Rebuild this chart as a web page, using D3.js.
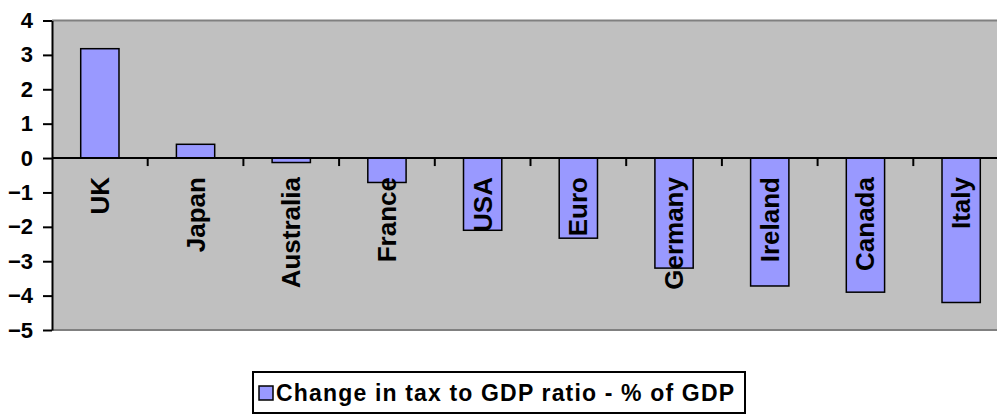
<!DOCTYPE html>
<html>
<head>
<meta charset="utf-8">
<script src="https://cdn.jsdelivr.net/npm/d3@7"></script>
<style>
  html, body { margin: 0; padding: 0; background: #ffffff; }
  svg { display: block; font-family: "Liberation Sans", Arial, sans-serif; font-weight: bold; }
</style>
</head>
<body>
<svg id="chart" width="997" height="418"></svg>
<script>
// Change in tax-to-GDP ratio by country (percentage points of GDP)
const categories = ["UK", "Japan", "Australia", "France", "USA", "Euro", "Germany", "Ireland", "Canada", "Italy"];
const values = [3.18, 0.4, -0.13, -0.71, -2.1, -2.33, -3.2, -3.72, -3.9, -4.2];
const yTicks = [4, 3, 2, 1, 0, -1, -2, -3, -4, -5];
const seriesName = "Change in tax to GDP ratio - % of GDP";

const svg = d3.select("#chart");
const plot = { left: 52, right: 1009, top: 20.5, bottom: 330 };

const x = d3.scaleBand()
  .domain(categories)
  .range([plot.left, plot.right])
  .paddingInner(0.6)
  .paddingOuter(0.3);

const y = d3.scaleLinear()
  .domain([-5, 4])
  .range([plot.bottom, plot.top]);

// plot background
svg.append("rect")
  .attr("x", plot.left).attr("y", plot.top)
  .attr("width", plot.right - plot.left).attr("height", plot.bottom - plot.top)
  .attr("fill", "#c0c0c0");

// grey frame lines along top and bottom of the plot area
svg.append("line")
  .attr("x1", plot.left).attr("x2", 997)
  .attr("y1", plot.top).attr("y2", plot.top)
  .attr("stroke", "#808080").attr("stroke-width", 2);
svg.append("line")
  .attr("x1", plot.left).attr("x2", 997)
  .attr("y1", plot.bottom).attr("y2", plot.bottom)
  .attr("stroke", "#808080").attr("stroke-width", 2);

// bars
svg.append("g").selectAll("rect")
  .data(categories)
  .join("rect")
  .attr("x", d => x(d))
  .attr("width", x.bandwidth())
  .attr("y", (d, i) => y(Math.max(0, values[i])))
  .attr("height", (d, i) => Math.abs(y(values[i]) - y(0)))
  .attr("fill", "#9999ff")
  .attr("stroke", "#000000")
  .attr("stroke-width", 1.5);

// y axis
const yAxis = d3.axisLeft(y)
  .tickValues(yTicks)
  .tickFormat(d3.format("d"))
  .tickSizeInner(9)
  .tickSizeOuter(0)
  .tickPadding(10);
const gy = svg.append("g")
  .attr("transform", `translate(${plot.left},0)`)
  .call(yAxis);
gy.select(".domain").attr("stroke", "#000").attr("stroke-width", 2);
gy.selectAll(".tick line").attr("stroke", "#000").attr("stroke-width", 2);
gy.selectAll(".tick text")
  .attr("fill", "#000")
  .style("font-size", "22px")
  .style("font-weight", "bold")
  .style("font-family", "'Liberation Sans', Arial, sans-serif");

// category axis along the zero line, ticks between categories
const step = x.step();
const boundaries = categories.slice(0, -1).map(c => x(c) + x.bandwidth() + (step - x.bandwidth()) / 2);
svg.append("line")
  .attr("x1", plot.left).attr("x2", 997)
  .attr("y1", y(0)).attr("y2", y(0))
  .attr("stroke", "#000").attr("stroke-width", 2);
svg.append("g").selectAll("line")
  .data(boundaries)
  .join("line")
  .attr("x1", d => d).attr("x2", d => d)
  .attr("y1", y(0)).attr("y2", y(0) + 8)
  .attr("stroke", "#000").attr("stroke-width", 2);

// rotated category labels below the zero line
svg.append("g").selectAll("text")
  .data(categories)
  .join("text")
  .attr("transform", d => `translate(${x(d) + x.bandwidth() / 2},${y(0) + 19}) rotate(-90)`)
  .attr("text-anchor", "end")
  .attr("dominant-baseline", "central")
  .attr("fill", "#000")
  .style("font-size", "26px")
  .text(d => d);

// legend
const legend = svg.append("g");
legend.append("rect")
  .attr("x", 253).attr("y", 372)
  .attr("width", 492).attr("height", 41)
  .attr("fill", "#ffffff")
  .attr("stroke", "#000").attr("stroke-width", 2);
legend.append("rect")
  .attr("x", 259).attr("y", 386)
  .attr("width", 14).attr("height", 14)
  .attr("fill", "#9999ff")
  .attr("stroke", "#000").attr("stroke-width", 1.5);
legend.append("text")
  .attr("x", 276).attr("y", 401)
  .attr("fill", "#000")
  .style("font-size", "23px")
  .attr("textLength", 458)
  .attr("lengthAdjust", "spacing")
  .text(seriesName);
</script>
</body>
</html>
